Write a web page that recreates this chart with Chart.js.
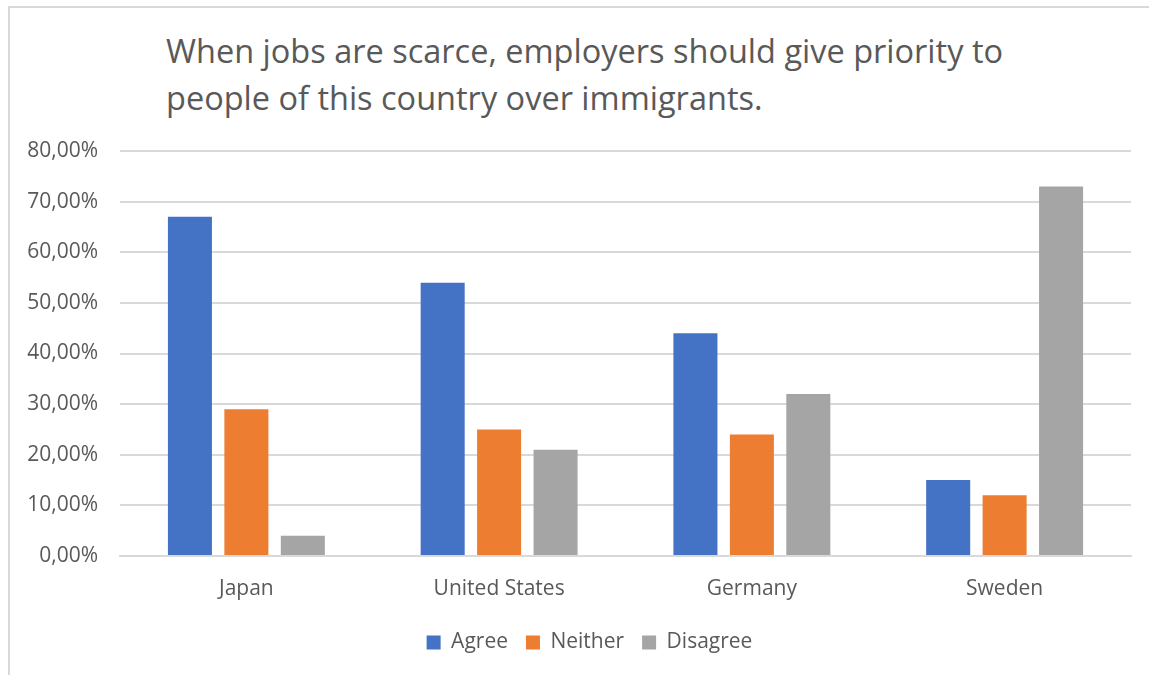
<!DOCTYPE html>
<html>
<head>
<meta charset="utf-8">
<script src="https://cdn.jsdelivr.net/npm/chart.js@4.4.1/dist/chart.umd.min.js"></script>
<style>
  html, body { margin: 0; padding: 0; background: #fff; }
  body { width: 1149px; height: 675px; overflow: hidden; position: relative; }
  .frame {
    position: absolute; left: 8px; top: 6px; right: -2px; bottom: -2px;
    border-top: 2px solid #d9d9d9; border-left: 2px solid #d9d9d9;
  }
  .title {
    position: absolute; left: 166px; top: 27px;
    font-family: "Open Sans", sans-serif; font-size: 32.5px; line-height: 47px;
    color: #595959; white-space: nowrap;
  }
  .wrap { position: absolute; left: 10px; top: 8px; width: 1139px; height: 667px; }
</style>
</head>
<body>
<div class="frame"></div>
<div class="title">When jobs are scarce, employers should give priority to<br>people of this country over immigrants.</div>
<div class="wrap"><canvas id="chart"></canvas></div>
<script>
const countries = ['Japan', 'United States', 'Germany', 'Sweden'];
const agree = [67, 54, 44, 15];
const neither = [29, 25, 24, 12];
const disagree = [4, 21, 32, 73];

const textColor = '#595959';
const gridColor = '#d9d9d9';
const font = { family: '"Open Sans", sans-serif', size: 21 };

// centre the legend a little right of the canvas middle
const legendShift = {
  id: 'legendShift',
  afterLayout(chart) {
    chart.legend.left += 19;
    chart.legend.right += 19;
  }
};

const ctx = document.getElementById('chart').getContext('2d');
new Chart(ctx, {
  type: 'bar',
  data: {
    labels: countries,
    datasets: [
      { label: 'Agree', data: agree, backgroundColor: '#4472C4' },
      { label: 'Neither', data: neither, backgroundColor: '#ED7D31' },
      { label: 'Disagree', data: disagree, backgroundColor: '#A5A5A5' }
    ]
  },
  options: {
    responsive: true,
    maintainAspectRatio: false,
    animation: false,
    datasets: {
      bar: { categoryPercentage: 0.67, barPercentage: 0.78 }
    },
    layout: { padding: { top: 143, right: 18, bottom: 12, left: 0 } },
    scales: {
      x: {
        grid: { display: false, drawTicks: false },
        border: { color: gridColor, width: 2 },
        ticks: { color: textColor, font: font, padding: 20 },
        afterFit: (scale) => { scale.height = 58; }
      },
      y: {
        min: 0,
        max: 80,
        grid: { color: gridColor, lineWidth: 2, drawTicks: false },
        border: { display: false },
        ticks: {
          stepSize: 10,
          color: textColor,
          font: font,
          padding: 22,
          callback: (v) => v.toFixed(2).replace('.', ',') + '%'
        },
        afterFit: (scale) => { scale.width = 110; }
      }
    },
    plugins: {
      tooltip: { enabled: false },
      legend: {
        position: 'bottom',
        labels: {
          color: textColor,
          font: font,
          boxWidth: 14,
          boxHeight: 14,
          padding: 18
        }
      }
    }
  },
  plugins: [legendShift]
});
</script>
</body>
</html>
